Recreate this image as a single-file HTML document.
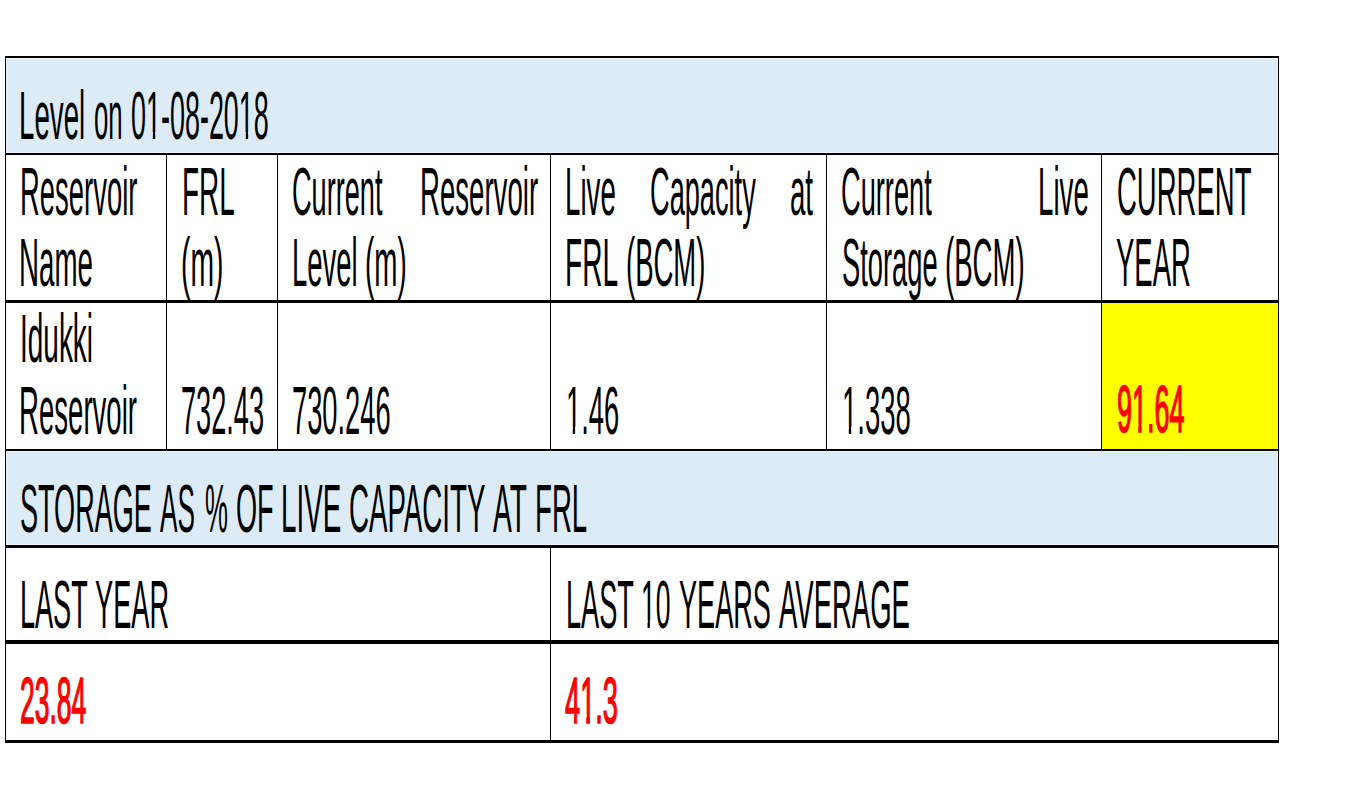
<!DOCTYPE html>
<html><head><meta charset="utf-8"><style>
html,body{margin:0;padding:0;background:#fff;width:1360px;height:800px;overflow:hidden}
.r{position:absolute}
.one{position:relative}
.one::before,.one::after{content:"";position:absolute;background:var(--bg);bottom:0.185em;height:0.135em}
.one::before{left:0.02em;width:0.232em}
.one::after{left:0.34em;width:0.2em}
.ob::before{width:0.205em;bottom:0.165em;height:0.16em}
.ob::after{left:0.36em}
.t{position:absolute;white-space:pre;font-family:"Liberation Sans",sans-serif;font-size:69.0px;line-height:69.0px;transform-origin:0 0;color:#000}
</style></head><body>
<div class="r" style="left:6px;top:58px;width:1272px;height:95px;background:#eef6fc"></div>
<div class="r" style="left:7px;top:59px;width:1270px;height:93px;background:#ddebf7"></div>
<div class="r" style="left:6px;top:451px;width:1272px;height:94px;background:#eef6fc"></div>
<div class="r" style="left:7px;top:452px;width:1270px;height:92px;background:#ddebf7"></div>
<div class="r" style="left:1102px;top:303px;width:176px;height:146px;background:#ffff00"></div>
<div class="r" style="left:5px;top:56px;width:1274px;height:2px;background:#000"></div>
<div class="r" style="left:5px;top:153px;width:1274px;height:2px;background:#000"></div>
<div class="r" style="left:5px;top:300px;width:1274px;height:3px;background:#000"></div>
<div class="r" style="left:5px;top:449px;width:1274px;height:2px;background:#000"></div>
<div class="r" style="left:5px;top:545px;width:1274px;height:3px;background:#000"></div>
<div class="r" style="left:5px;top:640px;width:1274px;height:4px;background:#000"></div>
<div class="r" style="left:5px;top:740px;width:1274px;height:3px;background:#000"></div>
<div class="r" style="left:5px;top:56px;width:1px;height:687px;background:#000"></div>
<div class="r" style="left:1278px;top:56px;width:1px;height:687px;background:#000"></div>
<div class="r" style="left:166px;top:155px;width:1px;height:294px;background:#000"></div>
<div class="r" style="left:277px;top:155px;width:1px;height:294px;background:#000"></div>
<div class="r" style="left:550px;top:155px;width:1px;height:294px;background:#000"></div>
<div class="r" style="left:826px;top:155px;width:1px;height:294px;background:#000"></div>
<div class="r" style="left:1101px;top:155px;width:1px;height:294px;background:#000"></div>
<div class="r" style="left:550px;top:548px;width:1px;height:192px;background:#000"></div>
<div class="t" style="left:19.34px;top:81.00px;transform:scaleX(0.4016);">Level</div>
<div class="t" style="left:93.78px;top:81.00px;transform:scaleX(0.3739);">on</div>
<div class="t" style="left:131.43px;top:81.00px;transform:scaleX(0.3905);">0<span class="one" style="--bg:#ddebf7">1</span>-08-20<span class="one" style="--bg:#ddebf7">1</span>8</div>
<div class="t" style="left:19.71px;top:156.70px;transform:scaleX(0.3976);">Reservoir</div>
<div class="t" style="left:19.49px;top:228.40px;transform:scaleX(0.4017);">Name</div>
<div class="t" style="left:181.57px;top:156.70px;transform:scaleX(0.4049);">FRL</div>
<div class="t" style="left:181.36px;top:228.40px;transform:scaleX(0.4105);">(m)</div>
<div class="t" style="left:291.53px;top:156.70px;transform:scaleX(0.3934);">Current</div>
<div class="t" style="left:419.80px;top:156.70px;transform:scaleX(0.4000);">Reservoir</div>
<div class="t" style="left:291.72px;top:228.40px;transform:scaleX(0.3974);">Level</div>
<div class="t" style="left:365.09px;top:228.40px;transform:scaleX(0.4032);">(m)</div>
<div class="t" style="left:565.09px;top:156.70px;transform:scaleX(0.4017);">Live</div>
<div class="t" style="left:650.32px;top:156.70px;transform:scaleX(0.3939);">Capacity</div>
<div class="t" style="left:789.70px;top:156.70px;transform:scaleX(0.4000);">at</div>
<div class="t" style="left:565.26px;top:228.40px;transform:scaleX(0.4074);">FRL</div>
<div class="t" style="left:626.21px;top:228.40px;transform:scaleX(0.3984);">(BCM)</div>
<div class="t" style="left:841.32px;top:156.70px;transform:scaleX(0.3942);">Current</div>
<div class="t" style="left:1037.69px;top:156.70px;transform:scaleX(0.4017);">Live</div>
<div class="t" style="left:841.91px;top:228.40px;transform:scaleX(0.3958);">Storage</div>
<div class="t" style="left:945.20px;top:228.40px;transform:scaleX(0.4000);">(BCM)</div>
<div class="t" style="left:1116.50px;top:156.70px;transform:scaleX(0.3988);">CURRENT</div>
<div class="t" style="left:1116.40px;top:228.40px;transform:scaleX(0.3984);">YEAR</div>
<div class="t" style="left:19.97px;top:303.70px;transform:scaleX(0.4053);">Idukki</div>
<div class="t" style="left:19.10px;top:375.70px;transform:scaleX(0.3997);">Reservoir</div>
<div class="t" style="left:181.43px;top:375.70px;transform:scaleX(0.3931);">732.43</div>
<div class="t" style="left:291.92px;top:375.70px;transform:scaleX(0.3955);">730.246</div>
<div class="t" style="left:565.98px;top:375.70px;transform:scaleX(0.3956);"><span class="one" style="--bg:#fff">1</span>.46</div>
<div class="t" style="left:841.61px;top:375.70px;transform:scaleX(0.3988);"><span class="one" style="--bg:#fff">1</span>.338</div>
<div class="t" style="left:1117.18px;top:375.60px;transform:scaleX(0.4086);font-size:66.0px;line-height:66.0px;-webkit-text-stroke:1.6px #f00;color:#f00">9<span class="one ob" style="--bg:#ffff00">1</span>.64</div>
<div class="t" style="left:19.72px;top:473.50px;transform:scaleX(0.3921);">STORAGE</div>
<div class="t" style="left:159.90px;top:473.50px;transform:scaleX(0.3798);">AS</div>
<div class="t" style="left:204.55px;top:473.50px;transform:scaleX(0.3737);">%</div>
<div class="t" style="left:235.72px;top:473.50px;transform:scaleX(0.3922);">OF</div>
<div class="t" style="left:280.79px;top:473.50px;transform:scaleX(0.4021);">LIVE</div>
<div class="t" style="left:348.70px;top:473.50px;transform:scaleX(0.4012);">CAPACITY</div>
<div class="t" style="left:492.90px;top:473.50px;transform:scaleX(0.4085);">AT</div>
<div class="t" style="left:534.50px;top:473.50px;transform:scaleX(0.4008);">FRL</div>
<div class="t" style="left:19.75px;top:569.50px;transform:scaleX(0.3921);">LAST</div>
<div class="t" style="left:95.41px;top:569.50px;transform:scaleX(0.3940);">YEAR</div>
<div class="t" style="left:565.54px;top:569.50px;transform:scaleX(0.3933);">LAST</div>
<div class="t" style="left:641.30px;top:569.50px;transform:scaleX(0.3851);"><span class="one" style="--bg:#fff">1</span>0</div>
<div class="t" style="left:679.01px;top:569.50px;transform:scaleX(0.3930);">YEARS</div>
<div class="t" style="left:778.90px;top:569.50px;transform:scaleX(0.3985);">AVERAGE</div>
<div class="t" style="left:20.47px;top:668.70px;transform:scaleX(0.4127);font-size:64.2px;line-height:64.2px;-webkit-text-stroke:1.6px #f00;color:#f00">23.84</div>
<div class="t" style="left:565.38px;top:668.70px;transform:scaleX(0.4238);font-size:64.2px;line-height:64.2px;-webkit-text-stroke:1.6px #f00;color:#f00">4<span class="one ob" style="--bg:#fff">1</span>.3</div>
</body></html>
